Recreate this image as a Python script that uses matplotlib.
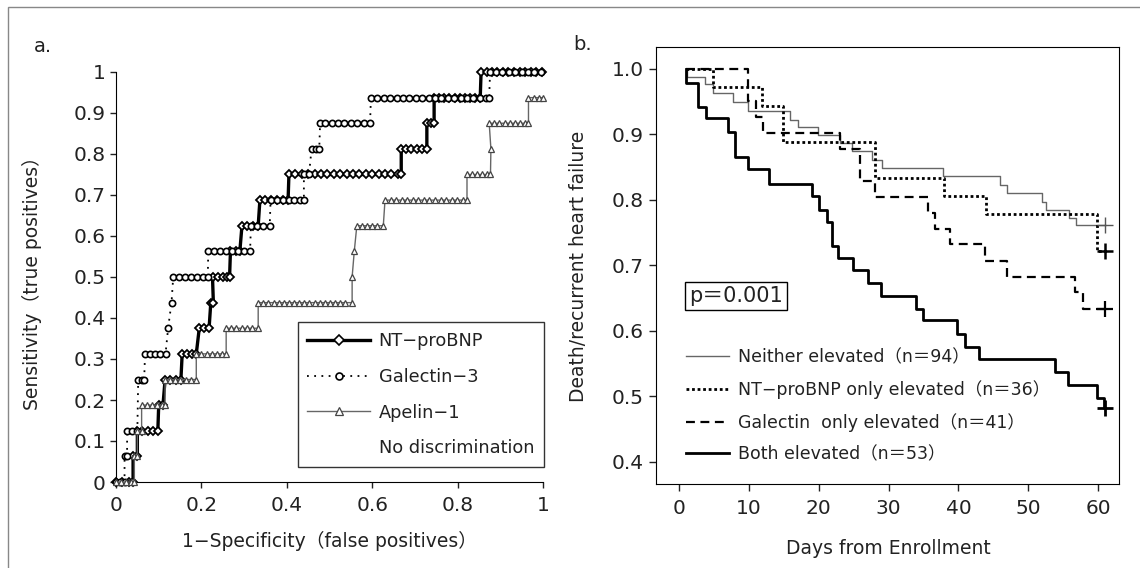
import matplotlib
matplotlib.use("Agg")
import matplotlib.pyplot as plt
from matplotlib.lines import Line2D
from matplotlib.patches import Rectangle

plt.rcParams['font.family'] = ['DejaVu Sans', 'Noto Sans CJK JP']
plt.rcParams['text.color'] = '#222222'
plt.rcParams['axes.labelcolor'] = '#222222'

# ---- panel a: ROC curves (1-specificity, sensitivity) ----
nt_fpr = [0.0, 0.015, 0.03, 0.04,
          0.04, 0.05,
          0.05, 0.062, 0.074, 0.086, 0.098,
          0.10, 0.11,
          0.115, 0.127, 0.14, 0.152,
          0.155, 0.167, 0.178, 0.188,
          0.195, 0.207, 0.218,
          0.222, 0.228,
          0.226, 0.238, 0.25, 0.26, 0.266,
          0.268, 0.28, 0.29,
          0.295, 0.307, 0.32, 0.333,
          0.337, 0.35, 0.363, 0.376, 0.39, 0.403,
          0.405, 0.42, 0.435, 0.45, 0.465, 0.48, 0.495, 0.51, 0.525, 0.54,
          0.555, 0.57, 0.585, 0.60, 0.615, 0.63, 0.645, 0.66, 0.668,
          0.668, 0.68, 0.692, 0.704, 0.716, 0.728,
          0.728, 0.738, 0.745,
          0.745, 0.757, 0.769, 0.781, 0.793, 0.805, 0.817, 0.829, 0.841, 0.853,
          0.855, 0.868, 0.88, 0.893, 0.906, 0.919, 0.932, 0.945, 0.958, 0.971, 0.984, 0.997]
nt_tpr = [0, 0, 0, 0,
          0.0625, 0.0625,
          0.125, 0.125, 0.125, 0.125, 0.125,
          0.1875, 0.1875,
          0.25, 0.25, 0.25, 0.25,
          0.3125, 0.3125, 0.3125, 0.3125,
          0.375, 0.375, 0.375,
          0.4375, 0.4375,
          0.5, 0.5, 0.5, 0.5, 0.5,
          0.5625, 0.5625, 0.5625,
          0.625, 0.625, 0.625, 0.625,
          0.6875, 0.6875, 0.6875, 0.6875, 0.6875, 0.6875,
          0.75, 0.75, 0.75, 0.75, 0.75, 0.75, 0.75, 0.75, 0.75, 0.75,
          0.75, 0.75, 0.75, 0.75, 0.75, 0.75, 0.75, 0.75, 0.75,
          0.8125, 0.8125, 0.8125, 0.8125, 0.8125, 0.8125,
          0.875, 0.875, 0.875,
          0.9375, 0.9375, 0.9375, 0.9375, 0.9375, 0.9375, 0.9375, 0.9375, 0.9375, 0.9375,
          1, 1, 1, 1, 1, 1, 1, 1, 1, 1, 1, 1]

gal_fpr = [0.0, 0.01, 0.02,
           0.02, 0.026,
           0.026, 0.038, 0.05,
           0.052, 0.06, 0.066,
           0.068, 0.08, 0.092, 0.104, 0.116,
           0.122,
           0.13,
           0.134, 0.148, 0.162, 0.176, 0.19, 0.204, 0.215,
           0.216, 0.23, 0.244, 0.258, 0.272, 0.286, 0.30, 0.314,
           0.316, 0.33, 0.345, 0.36,
           0.362, 0.376, 0.39, 0.404, 0.418, 0.432, 0.44,
           0.44, 0.452,
           0.458, 0.468, 0.476,
           0.478, 0.49, 0.505, 0.52, 0.535, 0.55, 0.565, 0.58, 0.595,
           0.597, 0.612, 0.627, 0.642, 0.657, 0.672, 0.687, 0.702, 0.717, 0.732,
           0.747, 0.762, 0.777, 0.792, 0.807, 0.822, 0.837, 0.852, 0.867, 0.874,
           0.876, 0.89, 0.905, 0.92, 0.935, 0.95, 0.965, 0.98, 0.995]
gal_tpr = [0, 0, 0,
           0.0625, 0.0625,
           0.125, 0.125, 0.125,
           0.25, 0.25, 0.25,
           0.3125, 0.3125, 0.3125, 0.3125, 0.3125,
           0.375,
           0.4375,
           0.5, 0.5, 0.5, 0.5, 0.5, 0.5, 0.5,
           0.5625, 0.5625, 0.5625, 0.5625, 0.5625, 0.5625, 0.5625, 0.5625,
           0.625, 0.625, 0.625, 0.625,
           0.6875, 0.6875, 0.6875, 0.6875, 0.6875, 0.6875, 0.6875,
           0.75, 0.75,
           0.8125, 0.8125, 0.8125,
           0.875, 0.875, 0.875, 0.875, 0.875, 0.875, 0.875, 0.875, 0.875,
           0.9375, 0.9375, 0.9375, 0.9375, 0.9375, 0.9375, 0.9375, 0.9375, 0.9375, 0.9375,
           0.9375, 0.9375, 0.9375, 0.9375, 0.9375, 0.9375, 0.9375, 0.9375, 0.9375, 0.9375,
           1, 1, 1, 1, 1, 1, 1, 1, 1]

ap_fpr = [0.0, 0.012, 0.024, 0.036, 0.043,
          0.043, 0.05,
          0.05, 0.06,
          0.06, 0.072, 0.084, 0.096, 0.108, 0.115,
          0.115, 0.127, 0.139, 0.151, 0.163, 0.175, 0.188,
          0.188, 0.2, 0.212, 0.224, 0.236, 0.248, 0.258,
          0.258, 0.27, 0.282, 0.294, 0.306, 0.318, 0.333,
          0.333, 0.345, 0.357, 0.369, 0.381, 0.393, 0.405, 0.417, 0.429, 0.441,
          0.453, 0.465, 0.477, 0.489, 0.501, 0.513, 0.525, 0.537, 0.553,
          0.553, 0.558,
          0.564, 0.576, 0.588, 0.60, 0.612, 0.626,
          0.63, 0.643, 0.656, 0.669, 0.682, 0.695, 0.708, 0.721, 0.734, 0.747,
          0.76, 0.773, 0.786, 0.799, 0.812, 0.822,
          0.822, 0.834, 0.846, 0.858, 0.87, 0.877,
          0.878,
          0.874, 0.886, 0.898, 0.91, 0.922, 0.934, 0.946, 0.958, 0.966,
          0.966, 0.978, 0.99, 1.0]
ap_tpr = [0, 0, 0, 0, 0,
          0.0625, 0.0625,
          0.125, 0.125,
          0.1875, 0.1875, 0.1875, 0.1875, 0.1875, 0.1875,
          0.25, 0.25, 0.25, 0.25, 0.25, 0.25, 0.25,
          0.3125, 0.3125, 0.3125, 0.3125, 0.3125, 0.3125, 0.3125,
          0.375, 0.375, 0.375, 0.375, 0.375, 0.375, 0.375,
          0.4375, 0.4375, 0.4375, 0.4375, 0.4375, 0.4375, 0.4375, 0.4375, 0.4375, 0.4375,
          0.4375, 0.4375, 0.4375, 0.4375, 0.4375, 0.4375, 0.4375, 0.4375, 0.4375,
          0.5, 0.5625,
          0.625, 0.625, 0.625, 0.625, 0.625, 0.625,
          0.6875, 0.6875, 0.6875, 0.6875, 0.6875, 0.6875, 0.6875, 0.6875, 0.6875, 0.6875,
          0.6875, 0.6875, 0.6875, 0.6875, 0.6875, 0.6875,
          0.75, 0.75, 0.75, 0.75, 0.75, 0.75,
          0.8125,
          0.875, 0.875, 0.875, 0.875, 0.875, 0.875, 0.875, 0.875, 0.875,
          0.9375, 0.9375, 0.9375, 0.9375]

roc_ticks_x = [0, 0.2, 0.4, 0.6, 0.8, 1]
roc_ticks_y = [0, 0.1, 0.2, 0.3, 0.4, 0.5, 0.6, 0.7, 0.8, 0.9, 1]

# ---- panel b: Kaplan-Meier (days, event-free survival) ----
neither_days = [1.0, 1.1, 3.7, 4.8, 7.7, 9.9, 15.9, 17.0, 19.9, 23.0, 24.7, 27.6, 29.0,
                37.8, 45.9, 46.9, 51.9, 52.6, 55.9, 56.9, 61.0]
neither_surv = [1.0, 0.988, 0.977, 0.963, 0.95, 0.936, 0.922, 0.911, 0.899, 0.887, 0.874,
                0.861, 0.848, 0.836, 0.823, 0.811, 0.797, 0.785, 0.772, 0.761, 0.761]
ntonly_days = [1.0, 4.8, 11.8, 14.9, 28.0, 37.9, 43.9, 59.9, 61.0]
ntonly_surv = [1.0, 0.972, 0.944, 0.889, 0.833, 0.806, 0.778, 0.722, 0.722]
galonly_days = [1.0, 9.9, 11.0, 12.0, 23.0, 25.9, 28.0, 35.6, 36.6, 38.8, 43.8, 46.9,
                56.7, 57.8, 61.0]
galonly_surv = [1.0, 0.951, 0.927, 0.902, 0.878, 0.829, 0.805, 0.78, 0.756, 0.732, 0.707,
                0.683, 0.659, 0.634, 0.634]
both_days = [1.0, 1.0, 2.7, 3.8, 7.0, 8.0, 9.9, 12.9, 19.0, 20.0, 21.1, 21.9, 22.8, 24.9,
             27.1, 28.9, 33.9, 34.9, 39.8, 40.9, 43.0, 53.9, 55.7, 59.9, 60.8, 61.0]
both_surv = [1.0, 0.979, 0.942, 0.925, 0.903, 0.866, 0.847, 0.825, 0.806, 0.784, 0.767,
             0.73, 0.712, 0.693, 0.673, 0.653, 0.633, 0.617, 0.596, 0.575, 0.557, 0.537,
             0.518, 0.498, 0.482, 0.482]
km_ticks_x = [0, 10, 20, 30, 40, 50, 60]
km_ticks_y = [0.4, 0.5, 0.6, 0.7, 0.8, 0.9, 1.0]
km_labels = ['Neither elevated（n＝94）', 'NT−proBNP only elevated（n＝36）',
             'Galectin  only elevated（n＝41）', 'Both elevated（n＝53）']

fig = plt.figure(figsize=(11.4, 5.68), dpi=100)
fig.patches.append(Rectangle((8 / 1140, -0.02), 1.1, 1 - 7 / 568 + 0.02, transform=fig.transFigure,
                             fill=False, edgecolor='#888888', linewidth=1.0))

# ---------------- panel a ----------------
ax = fig.add_axes([116 / 1140, 1 - 482 / 568, 427 / 1140, 410 / 568])
ax.plot(nt_fpr, nt_tpr, color='black', lw=2.4, marker='D', ms=4, mfc='white', mec='black',
        mew=1.3, clip_on=False, zorder=3)
ax.plot(gal_fpr, gal_tpr, color='black', lw=1.3, ls=(0, (1, 3)), marker='o', ms=4.5,
        mfc='white', mec='black', mew=1.2, clip_on=False, zorder=4)
ax.plot(ap_fpr, ap_tpr, color='#666666', lw=1.0, marker='^', ms=5, mfc='white', mec='#444444',
        mew=0.9, clip_on=False, zorder=5)
ax.set_xlim(0, 1)
ax.set_ylim(0, 1)
ax.spines['top'].set_visible(False)
ax.spines['right'].set_visible(False)
ax.set_xticks(roc_ticks_x)
ax.set_xticklabels(['%g' % v for v in roc_ticks_x])
ax.set_yticks(roc_ticks_y)
ax.set_yticklabels(['%g' % v for v in roc_ticks_y])
ax.tick_params(labelsize=14.5, length=4, width=1, colors='#222222')
ax.tick_params(axis='x', pad=6)
ax.set_xlabel('1−Specificity（false positives）', fontsize=13.5)
ax.set_ylabel('Sensitivity（true positives）', fontsize=13.5)
ax.xaxis.set_label_coords(0.501, -0.12)
ax.yaxis.set_label_coords(-0.173, 0.497)

handles_a = [
    Line2D([], [], color='black', lw=2.4, marker='D', ms=5, mfc='white', mec='black', mew=1.2),
    Line2D([], [], color='black', lw=1.3, ls=(0, (1, 3)), marker='o', ms=5, mfc='white',
           mec='black', mew=1.2),
    Line2D([], [], color='#666666', lw=1.0, marker='^', ms=6, mfc='white', mec='#444444', mew=0.9),
    Line2D([], [], color='none'),
]
leg = ax.legend(handles_a, ['NT−proBNP', 'Galectin−3', 'Apelin−1', 'No discrimination'],
                loc='lower right', bbox_to_anchor=(1.002, 0.036), fontsize=12.8, frameon=True,
                fancybox=False, edgecolor='black', borderaxespad=0, handlelength=3.5,
                handletextpad=0.5, labelspacing=1.0, borderpad=0.55)
leg.get_frame().set_linewidth(1.0)

fig.text(34 / 1140, 1 - 47 / 568, 'a.', fontsize=14, va='center', ha='left')

# ---------------- panel b ----------------
bx = fig.add_axes([655.5 / 1140, 1 - 483.6 / 568, 463.5 / 1140, 437 / 568])
bx.plot(neither_days, neither_surv, drawstyle='steps-post', color='#666666', lw=1.0)
bx.plot(ntonly_days, ntonly_surv, drawstyle='steps-post', color='black', lw=2.0,
        ls=(0, (1, 1)))
bx.plot(galonly_days, galonly_surv, drawstyle='steps-post', color='black', lw=1.6,
        ls=(0, (4, 2.5)))
bx.plot(both_days, both_surv, drawstyle='steps-post', color='black', lw=2.0)
# censor marks at end of follow-up
bx.plot(neither_days[-1:], neither_surv[-1:], marker='+', ms=11, mew=1.0, color='#555555')
bx.plot(ntonly_days[-1:], ntonly_surv[-1:], marker='+', ms=11, mew=1.8, color='black')
bx.plot(galonly_days[-1:], galonly_surv[-1:], marker='+', ms=11, mew=1.6, color='black')
bx.plot(both_days[-1:], both_surv[-1:], marker='+', ms=11, mew=2.0, color='black')

bx.set_xlim(-3.4, 63.0)
bx.set_ylim(0.367, 1.034)
bx.set_xticks(km_ticks_x)
bx.set_yticks(km_ticks_y)
bx.set_yticklabels(['%.1f' % v for v in km_ticks_y])
bx.tick_params(labelsize=14.5, length=5, width=1, colors='#222222')
bx.tick_params(axis='x', pad=6)
bx.set_xlabel('Days from Enrollment', fontsize=13.5)
bx.set_ylabel('Death/recurrent heart failure', fontsize=13.5)
bx.xaxis.set_label_coords(0.502, -0.127)
bx.yaxis.set_label_coords(-0.146, 0.498)

handles_b = [
    Line2D([], [], color='#666666', lw=1.0),
    Line2D([], [], color='black', lw=2.0, ls=(0, (1, 1))),
    Line2D([], [], color='black', lw=1.6, ls=(0, (4, 2.5))),
    Line2D([], [], color='black', lw=2.0),
]
bx.legend(handles_b, km_labels, loc='lower left', bbox_to_anchor=(0.05, 0.03), frameon=False,
          fontsize=12.5, handlelength=2.5, handletextpad=0.5, labelspacing=0.8,
          borderaxespad=0)
bx.text(0.174, 0.43, 'p＝0.001', transform=bx.transAxes, fontsize=15, ha='center',
        va='center', bbox=dict(boxstyle='square,pad=0.2', fc='white', ec='black', lw=1.0))

fig.text(573 / 1140, 1 - 44 / 568, 'b.', fontsize=14, va='center', ha='left')

fig.savefig('out.png', dpi=100)
